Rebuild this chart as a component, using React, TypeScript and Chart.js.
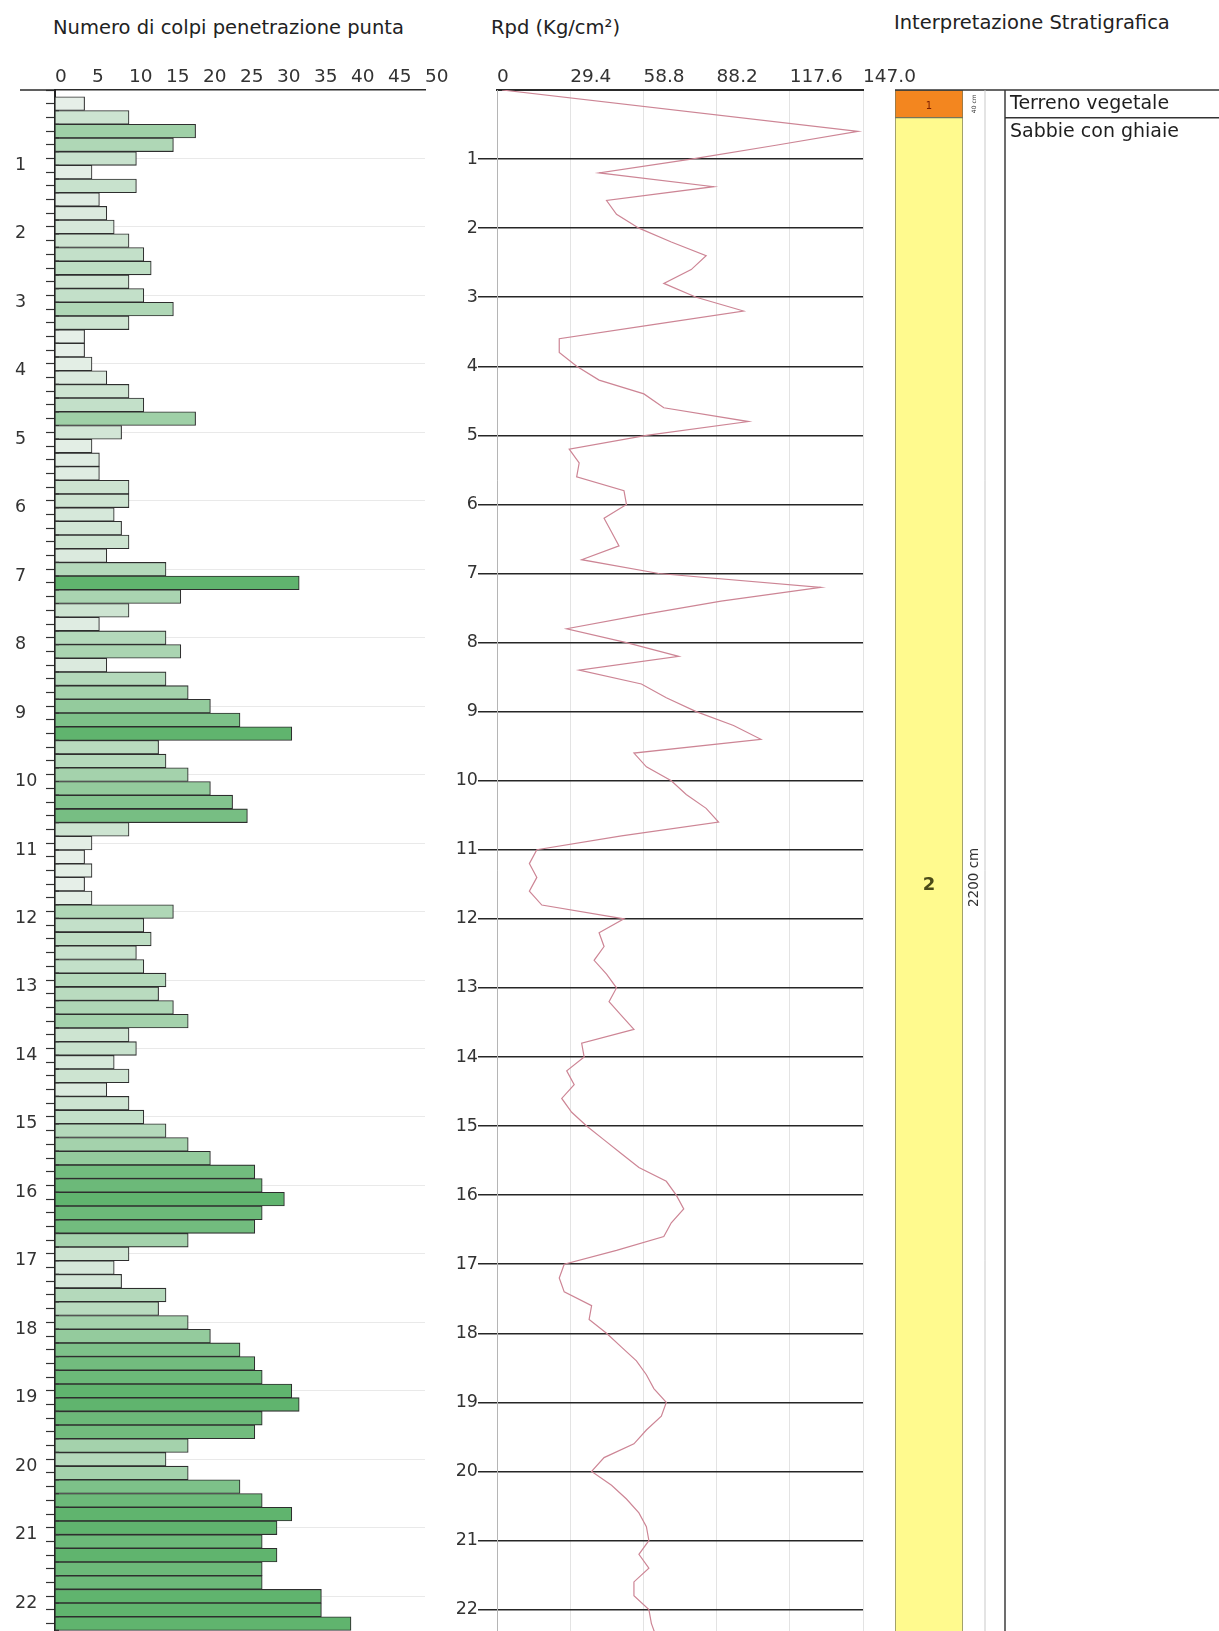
import React, { useEffect, useRef } from 'react';
import { Chart, registerables } from 'chart.js';

Chart.register(...registerables);

const FONT = 'DejaVu Sans';

// Penetrometric test, one reading every 20 cm
const STEP = 0.2;
const DEPTH_MAX = 22.6;

// Blow counts N per 20 cm interval, starting at 0.0 m
const blows = [
  4, 10, 19, 16, 11,
  5, 11, 6, 7, 8,
  10, 12, 13, 10, 12,
  16, 10, 4, 4, 5,
  7, 10, 12, 19, 9,
  5, 6, 6, 10, 10,
  8, 9, 10, 7, 15,
  33, 17, 10, 6, 15,
  17, 7, 15, 18, 21,
  25, 32, 14, 15, 18,
  21, 24, 26, 10, 5,
  4, 5, 4, 5, 16,
  12, 13, 11, 12, 15,
  14, 16, 18, 10, 11,
  8, 10, 7, 10, 12,
  15, 18, 21, 27, 28,
  31, 28, 27, 18, 10,
  8, 9, 15, 14, 18,
  21, 25, 27, 28, 32,
  33, 28, 27, 18, 15,
  18, 25, 28, 32, 30,
  28, 30, 28, 28, 36,
  36, 40,
];

// Dynamic resistance Rpd (Kg/cm²) at depth i * STEP; null where no vertex is plotted
const rpd: (number | null)[] = [
  2, null, null, 145, 112,
  78, 41, 87, 44, 48,
  57, 70, 84, 78, 67,
  80, 99, 62, 25, 25,
  32, 41, 59, 67, 101,
  60, 29, 33, 32, 51,
  52, 43, 46, 49, 34,
  65, 130, 90, 58, 28,
  52, 73, 33, 58, 68,
  80, 95, 106, 55, 60,
  70, 76, 84, 89, 50,
  16, 13, 16, 13, 18,
  51, 41, 43, 39, 44,
  48, 45, 50, 55, 34,
  35, 28, 31, 26, 30,
  36, 43, 50, 57, 68,
  72, 75, 70, 67, 48,
  27, 25, 27, 38, 37,
  44, 50, 56, 60, 63,
  68, 66, 60, 55, 43,
  38, 46, 52, 57, 60,
  61, 57, 61, 55, 55,
  61, 62, 64,
];

const blowTicks = [0, 5, 10, 15, 20, 25, 30, 35, 40, 45, 50];
const rpdTicks = [0, 29.4, 58.8, 88.2, 117.6, 147.0];
const depthTicks = [0, 1, 2, 3, 4, 5, 6, 7, 8, 9, 10, 11, 12, 13, 14, 15, 16, 17, 18, 19, 20, 21, 22];

// Stratigraphic layers
const layerIds = ['1', '2'];
const layerTop = [0, 0.4];
const layerBottom = [0.4, 22.4];
const layerNames = ['Terreno vegetale', 'Sabbie con ghiaie'];
const layerColors = ['#f3861f', '#fffa8e'];

const subTicks: number[] = [];
for (let i = 0; i * STEP <= DEPTH_MAX + 1e-9; i++) subTicks.push(Math.round(i * STEP * 10) / 10);

function blowColour(n: number): string {
  const t = Math.pow(Math.min(1, Math.max(0, (n - 4) / 26)), 1.15);
  const a = [230, 239, 232];
  const b = [96, 180, 110];
  const c = a.map((v, k) => Math.round(v + (b[k] - v) * t));
  return `rgb(${c[0]},${c[1]},${c[2]})`;
}

const isWhole = (v: number) => Math.abs(v - Math.round(v)) < 1e-6;

export default function App() {
  const blowsRef = useRef<HTMLCanvasElement>(null);
  const rpdRef = useRef<HTMLCanvasElement>(null);
  const strataRef = useRef<HTMLCanvasElement>(null);

  useEffect(() => {
    const charts: Chart[] = [];

    // Blow count histogram
    const barPoints = blows.map((v, i) => ({ x: v, y: i * STEP + STEP / 2 }));
    charts.push(
      new Chart(blowsRef.current as HTMLCanvasElement, {
        type: 'bar',
        data: {
          datasets: [
            {
              data: barPoints as any,
              backgroundColor: blows.map(blowColour),
              borderColor: '#2e2e2e',
              borderWidth: 1.1,
              borderSkipped: 'start',
              barPercentage: 1,
              categoryPercentage: 1,
            },
          ],
        },
        options: {
          indexAxis: 'y',
          animation: false,
          responsive: false,
          layout: { padding: { left: 15, right: 45, top: 0, bottom: 20 } },
          plugins: { legend: { display: false }, tooltip: { enabled: false } },
          scales: {
            x: {
              type: 'linear',
              position: 'top',
              min: 0,
              max: 50,
              afterBuildTicks: (s: any) => {
                s.ticks = blowTicks.map((v) => ({ value: v }));
              },
              afterFit: (s: any) => {
                s.height = 90;
              },
              ticks: {
                align: 'start',
                padding: 2,
                maxRotation: 0,
                color: '#333',
                font: { family: FONT, size: 18.5 },
              },
              grid: { drawOnChartArea: false, drawTicks: false },
              border: { color: '#2a2a2a', width: 1.5 },
            },
            y: {
              type: 'linear',
              reverse: true,
              min: 0,
              max: DEPTH_MAX,
              afterBuildTicks: (s: any) => {
                s.ticks = subTicks.map((v) => ({ value: v }));
              },
              afterFit: (s: any) => {
                s.width = 40;
              },
              ticks: {
                autoSkip: false,
                crossAlign: 'far',
                padding: 0,
                color: '#333',
                font: { family: FONT, size: 17.5 },
                callback: (v: any) => {
                  const n = Number(v);
                  return n > 0 && isWhole(n) ? String(Math.round(n)) : '';
                },
              },
              grid: {
                color: (ctx: any) => (ctx.tick && ctx.tick.value > 0 && isWhole(ctx.tick.value) ? '#e9e9e9' : 'rgba(0,0,0,0)'),
                tickColor: '#333',
                tickLength: 9,
                tickWidth: 1.2,
              },
              border: { color: '#222', width: 2 },
            },
          },
        },
        plugins: [
          {
            id: 'axisExtension',
            afterDraw(chart: any) {
              const { ctx, chartArea } = chart;
              const y = chart.scales.y;
              ctx.save();
              ctx.strokeStyle = '#2a2a2a';
              ctx.lineWidth = 1.5;
              ctx.beginPath();
              ctx.moveTo(20, chartArea.top);
              ctx.lineTo(chartArea.left, chartArea.top);
              ctx.stroke();
              // tick marks cross the depth axis slightly
              ctx.strokeStyle = '#333';
              ctx.lineWidth = 1.2;
              ctx.beginPath();
              subTicks.forEach((d) => {
                if (d === 0) return;
                const py = y.getPixelForValue(d);
                ctx.moveTo(chartArea.left, py);
                ctx.lineTo(chartArea.left + 4, py);
              });
              ctx.stroke();
              ctx.restore();
            },
          },
        ],
      })
    );

    // Rpd profile
    const rpdPoints = rpd
      .map((v, i) => (v === null ? null : { x: v, y: Math.round(i * STEP * 10) / 10 }))
      .filter((p) => p !== null);
    charts.push(
      new Chart(rpdRef.current as HTMLCanvasElement, {
        type: 'scatter',
        data: {
          datasets: [
            {
              data: rpdPoints as any,
              showLine: true,
              borderColor: '#cd8595',
              borderWidth: 1.2,
              pointRadius: 0,
              tension: 0,
            },
          ],
        },
        options: {
          animation: false,
          responsive: false,
          layout: { padding: { left: 0, right: 67, top: 0, bottom: 20 } },
          plugins: { legend: { display: false }, tooltip: { enabled: false } },
          scales: {
            x: {
              type: 'linear',
              position: 'top',
              min: 0,
              max: 147,
              afterBuildTicks: (s: any) => {
                s.ticks = rpdTicks.map((v) => ({ value: v }));
              },
              afterFit: (s: any) => {
                s.height = 90;
              },
              ticks: {
                align: 'start',
                padding: 2,
                maxRotation: 0,
                color: '#333',
                font: { family: FONT, size: 18.5 },
                callback: (v: any) => (Number(v) === 0 ? '0' : Number(v).toFixed(1)),
              },
              grid: { color: '#e3e3e3', drawTicks: false },
              border: { color: '#2a2a2a', width: 2 },
            },
            y: {
              type: 'linear',
              reverse: true,
              min: 0,
              max: DEPTH_MAX,
              afterBuildTicks: (s: any) => {
                s.ticks = depthTicks.map((v) => ({ value: v }));
              },
              afterFit: (s: any) => {
                s.width = 67;
              },
              ticks: {
                autoSkip: false,
                padding: 0,
                color: '#333',
                font: { family: FONT, size: 17.5 },
                callback: (v: any) => (Number(v) === 0 ? '' : String(v)),
              },
              grid: {
                color: (ctx: any) => (ctx.tick && ctx.tick.value === 0 ? 'rgba(0,0,0,0)' : '#262626'),
                tickColor: (ctx: any) => (ctx.tick && ctx.tick.value === 0 ? 'rgba(0,0,0,0)' : '#262626'),
                lineWidth: 1.5,
                tickWidth: 1.5,
                tickLength: 19,
              },
              border: { color: '#b5b5b5', width: 1 },
            },
          },
        },
      })
    );

    // Stratigraphic column
    charts.push(
      new Chart(strataRef.current as HTMLCanvasElement, {
        type: 'bar',
        data: {
          labels: ['colonna'],
          datasets: layerIds.map((id, i) => ({
            label: layerNames[i],
            data: [[layerTop[i], layerBottom[i]]] as any,
            backgroundColor: layerColors[i],
            borderColor: '#75755a',
            borderWidth: 1,
            borderSkipped: false,
            barPercentage: 1,
            categoryPercentage: 1,
            grouped: false,
          })),
        },
        options: {
          animation: false,
          responsive: false,
          layout: { padding: { left: 15, right: 256, top: 90, bottom: 20 } },
          plugins: { legend: { display: false }, tooltip: { enabled: false } },
          scales: {
            x: { display: false },
            y: { display: false, type: 'linear', reverse: true, min: 0, max: DEPTH_MAX },
          },
        },
        plugins: [
          {
            id: 'strataTable',
            afterDatasetsDraw(chart: any) {
              const { ctx, chartArea, width } = chart;
              const y = chart.scales.y;
              const top = y.getPixelForValue(0);
              const bottom = chartArea.bottom;
              const thickX = chartArea.right + 22;
              const descX = chartArea.right + 42;
              ctx.save();
              // table frame
              ctx.strokeStyle = '#333';
              ctx.lineWidth = 1.5;
              ctx.beginPath();
              ctx.moveTo(chartArea.left, top);
              ctx.lineTo(width, top);
              ctx.stroke();
              ctx.strokeStyle = '#c9c9c9';
              ctx.lineWidth = 1;
              ctx.beginPath();
              ctx.moveTo(thickX, top);
              ctx.lineTo(thickX, bottom);
              ctx.stroke();
              ctx.strokeStyle = '#3c3c3c';
              ctx.lineWidth = 1.5;
              ctx.beginPath();
              ctx.moveTo(descX, top);
              ctx.lineTo(descX, bottom);
              ctx.stroke();
              layerIds.forEach((id, i) => {
                const yt = y.getPixelForValue(layerTop[i]);
                const yb = y.getPixelForValue(layerBottom[i]);
                const ym = (yt + yb) / 2;
                // boundary in the description column
                ctx.strokeStyle = '#333';
                ctx.lineWidth = 1.5;
                ctx.beginPath();
                ctx.moveTo(descX, yb);
                ctx.lineTo(width, yb);
                ctx.stroke();
                // layer number
                const small = yb - yt < 40;
                ctx.fillStyle = small ? '#7a1d00' : '#4a4a18';
                ctx.font = `${small ? '' : 'bold '}${small ? 10 : 18}px ${FONT}`;
                ctx.textAlign = 'center';
                ctx.textBaseline = 'middle';
                ctx.fillText(id, (chartArea.left + chartArea.right) / 2, small ? ym + 3 : ym + 8);
                // thickness
                const cm = Math.round((layerBottom[i] - layerTop[i]) * 100);
                ctx.save();
                ctx.translate((chartArea.right + thickX) / 2, ym);
                ctx.rotate(-Math.PI / 2);
                ctx.fillStyle = '#333';
                ctx.font = `${small ? 6 : 13.5}px ${FONT}`;
                ctx.fillText(`${cm} cm`, 0, 0);
                ctx.restore();
                // description
                ctx.fillStyle = '#1e1e1e';
                ctx.font = `19px ${FONT}`;
                ctx.textAlign = 'left';
                ctx.textBaseline = 'middle';
                ctx.fillText(layerNames[i], descX + 5, yt + 14.5);
              });
              ctx.restore();
            },
          },
        ],
      })
    );

    return () => charts.forEach((c) => c.destroy());
  }, []);

  const header: React.CSSProperties = {
    position: 'absolute',
    top: 18,
    fontFamily: FONT,
    fontSize: '19.5px',
    lineHeight: '20px',
    color: '#222',
    whiteSpace: 'nowrap',
  };

  return (
    <div
      style={{
        position: 'absolute',
        left: 0,
        top: 0,
        width: 1219,
        height: 1631,
        overflow: 'hidden',
        background: '#fff',
      }}
    >
      <div style={{ ...header, left: 53 }}>Numero di colpi penetrazione punta</div>
      <div style={{ ...header, left: 491 }}>Rpd (Kg/cm²)</div>
      <div style={{ ...header, left: 894, top: 13 }}>Interpretazione Stratigrafica</div>
      <canvas
        ref={blowsRef}
        width={470}
        height={1671}
        style={{ position: 'absolute', left: 0, top: 0, width: 470, height: 1671 }}
      />
      <canvas
        ref={rpdRef}
        width={500}
        height={1671}
        style={{ position: 'absolute', left: 430, top: 0, width: 500, height: 1671 }}
      />
      <canvas
        ref={strataRef}
        width={339}
        height={1671}
        style={{ position: 'absolute', left: 880, top: 0, width: 339, height: 1671 }}
      />
    </div>
  );
}
